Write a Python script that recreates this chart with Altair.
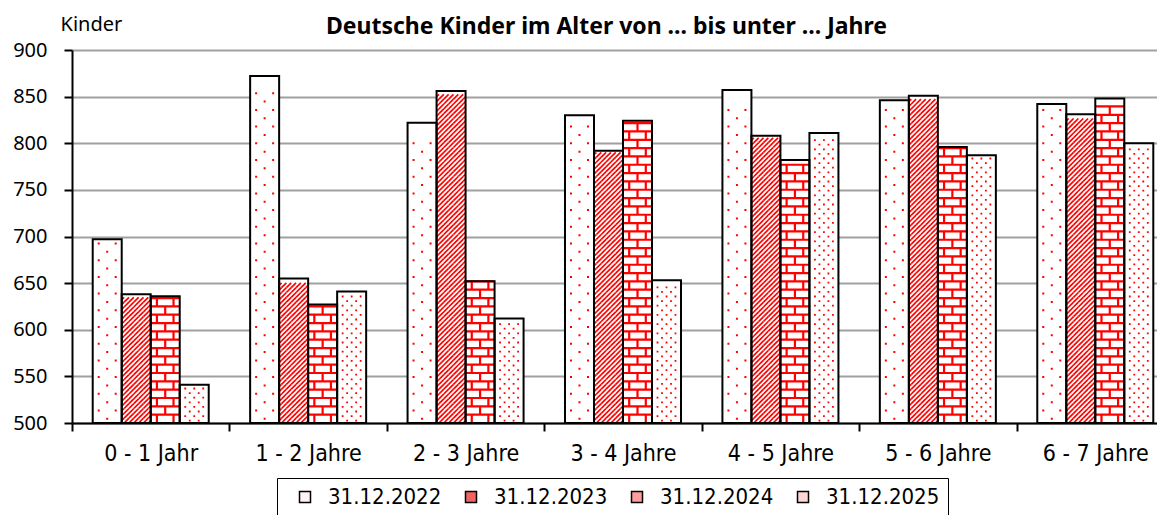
import altair as alt
import pandas as pd

categories = ["0 - 1 Jahr", "1 - 2 Jahre", "2 - 3 Jahre", "3 - 4 Jahre",
              "4 - 5 Jahre", "5 - 6 Jahre", "6 - 7 Jahre"]
series = ["31.12.2022", "31.12.2023", "31.12.2024", "31.12.2025"]
v2022 = [697, 872, 822, 830, 857, 846, 842]
v2023 = [638, 655, 856, 792, 808, 851, 831]
v2024 = [636, 627, 652, 824, 782, 796, 848]
v2025 = [541, 641, 612, 653, 811, 787, 800]
y_ticks = [500, 550, 600, 650, 700, 750, 800, 850, 900]
legend_colors = ["#fff2f2", "#f26464", "#ff9c9c", "#ffd6d6"]

rows = []
for s, vals in zip(series, [v2022, v2023, v2024, v2025]):
    for c, v in zip(categories, vals):
        rows.append({"Alter": c, "Stichtag": s, "Kinder": v})
df = pd.DataFrame(rows)

LABEL_FONT = "DejaVu Sans Condensed, DejaVu Sans"
NUM_FONT = "Noto Sans"
RED = "#ff0000"

# ---- geometry of the fill patterns (style only) ----
PLOT_H = 373
Y_MIN, Y_MAX = 500, 900
PPU = PLOT_H / (Y_MAX - Y_MIN)          # pixels per data unit
R = 14.5                                 # half bar width in px -> symbol size
SYM_SIZE = (2 * R) ** 2


def u(px):
    return px / R


def dot(cx, cy, s):
    return (f"M{u(cx - s / 2):.4f},{u(cy - s / 2):.4f}h{u(s):.4f}"
            f"v{u(s):.4f}h{-u(s):.4f}Z")


# 2022: sparse dots, tile 16.7 px
T22 = 16.7
shape22 = " ".join([dot(-8.5, -T22 / 4, 2.0), dot(8.5, -T22 / 4, 2.0),
                    dot(0, T22 / 4, 2.0)])
# 2025: dense staggered dots, tile 9.2 px
T25 = 9.2
shape25 = " ".join([dot(x, -T25 / 4, 1.8) for x in (-9, 0, 9)] +
                   [dot(x, T25 / 4, 1.8) for x in (-4.5, 4.5)])
# 2023: diagonal hatch, tile one period high
P23 = 2 * R / 6
T23 = P23
hh = T23 / 2
segs = []
for k in range(-6, 7):
    c = k * P23
    y1 = max(-hh, c - R)
    y2 = min(hh, c + R)
    if y2 - y1 > 0.01:
        segs.append(f"M{u(c - y1):.4f},{u(y1):.4f}L{u(c - y2):.4f},{u(y2):.4f}")
shape23 = " ".join(segs)
# 2024: bricks, one row per tile, two row types
T24 = 8.33
h24 = T24 / 2
shape24a = (f"M{u(-R):.4f},{u(-h24):.4f}H{u(R):.4f} "
            f"M{u(-8.3):.4f},{u(-h24):.4f}V{u(h24):.4f} "
            f"M{u(8.3):.4f},{u(-h24):.4f}V{u(h24):.4f}")
shape24b = (f"M{u(-R):.4f},{u(-h24):.4f}H{u(R):.4f} "
            f"M0,{u(-h24):.4f}V{u(h24):.4f}")

x_enc = alt.X("Alter:N", sort=categories,
              scale=alt.Scale(domain=categories, range=[0, 1102],
                              paddingInner=0, paddingOuter=0),
              axis=alt.Axis(title=None, labelAngle=0, tickBand="extent",
                            domainColor="black", domainWidth=2,
                            tickColor="black", tickWidth=2, tickSize=8,
                            labelFont=LABEL_FONT, labelFontSize=23,
                            labelColor="black", labelPadding=11, grid=False))
xo_enc = alt.XOffset("Stichtag:N", sort=series,
                     scale=alt.Scale(domain=series, paddingInner=0,
                                     paddingOuter=0.714))
y_scale = alt.Scale(domain=[Y_MIN, Y_MAX], nice=False, zero=False)
y_axis = alt.Axis(values=y_ticks, title="Kinder", titleAngle=0,
                  titleAlign="left", titleBaseline="alphabetic",
                  titleX=-12, titleY=-20, titleFont=NUM_FONT,
                  titleFontSize=20, titleFontWeight="normal",
                  titleColor="black",
                  domainColor="black", domainWidth=2,
                  tickColor="black", tickWidth=2, tickSize=8,
                  labelFont=NUM_FONT, labelFontSize=20,
                  labelColor="black", labelPadding=17,
                  gridColor="#a0a0a0", gridWidth=2)

base = alt.Chart(df)

colored = base.mark_bar(strokeWidth=0).encode(
    x=x_enc, xOffset=xo_enc,
    y=alt.Y("Kinder:Q", scale=y_scale, axis=y_axis),
    y2=alt.datum(Y_MIN),
    fill=alt.Fill("Stichtag:N", sort=series,
                  scale=alt.Scale(domain=series, range=legend_colors),
                  legend=alt.Legend(title=None, orient="none",
                                    direction="horizontal",
                                    legendX=205, legendY=428,
                                    symbolType="square", symbolSize=121,
                                    symbolStrokeColor="black",
                                    symbolStrokeWidth=1.5, symbolOffset=9,
                                    labelFont=LABEL_FONT, labelFontSize=22,
                                    labelColor="black", labelOffset=12,
                                    columnPadding=9, padding=8,
                                    strokeColor="black", fillColor="white")),
)

white = base.mark_bar(fill="white", strokeWidth=0).encode(
    x=x_enc, xOffset=xo_enc,
    y=alt.Y("Kinder:Q", scale=y_scale, axis=y_axis),
    y2=alt.datum(Y_MIN),
)


def pattern(series_name, shape, tile_px, first_px, step_px, filled, width=1.0):
    half = tile_px / 2 / PPU
    start = Y_MIN + first_px / PPU
    step = step_px / PPU
    if filled:
        mk = alt.MarkDef(type="point", shape=shape, size=SYM_SIZE, filled=True,
                         fill=RED, strokeWidth=0, opacity=1)
    else:
        mk = alt.MarkDef(type="point", shape=shape, size=SYM_SIZE, filled=False,
                         stroke=RED, strokeWidth=width, opacity=1,
                         strokeCap="butt")
    return alt.Chart(df, mark=mk).transform_filter(
        alt.datum.Stichtag == series_name
    ).transform_calculate(
        lvl=f"sequence({start:.4f}, datum.Kinder - {half:.4f} + 0.001, {step:.4f})"
    ).transform_flatten(["lvl"]).encode(
        x=x_enc, xOffset=xo_enc,
        y=alt.Y("lvl:Q", scale=y_scale, axis=y_axis),
    )


p22 = pattern(series[0], shape22, T22, T22 / 2, T22, True)
p23 = pattern(series[1], shape23, T23, T23 / 2, T23, False, 1.7)
p24a = pattern(series[2], shape24a, T24, T24 / 2, 2 * T24, False, 2.2)
p24b = pattern(series[2], shape24b, T24, 1.5 * T24, 2 * T24, False, 2.2)
p25 = pattern(series[3], shape25, T25, T25 / 2, T25, True)

outline = base.mark_bar(filled=False, stroke="black", strokeWidth=2).encode(
    x=x_enc, xOffset=xo_enc,
    y=alt.Y("Kinder:Q", scale=y_scale, axis=y_axis),
    y2=alt.datum(Y_MIN),
)

chart = alt.layer(colored, white, p22, p23, p24a, p24b, p25, outline).properties(
    width=1085, height=PLOT_H,
    autosize="none",
    padding={"left": 64, "top": 42, "right": 0, "bottom": 92},
    title=alt.TitleParams(
        "Deutsche Kinder im Alter von ... bis unter ... Jahre",
        font=NUM_FONT, fontSize=23, fontWeight="bold", color="black",
        anchor="middle", baseline="alphabetic", offset=0, dx=-8, dy=43),
).configure_view(stroke=None).configure_axis(gridCap="butt")

chart.save("out.html", embed_options={"renderer": "svg", "actions": False})
